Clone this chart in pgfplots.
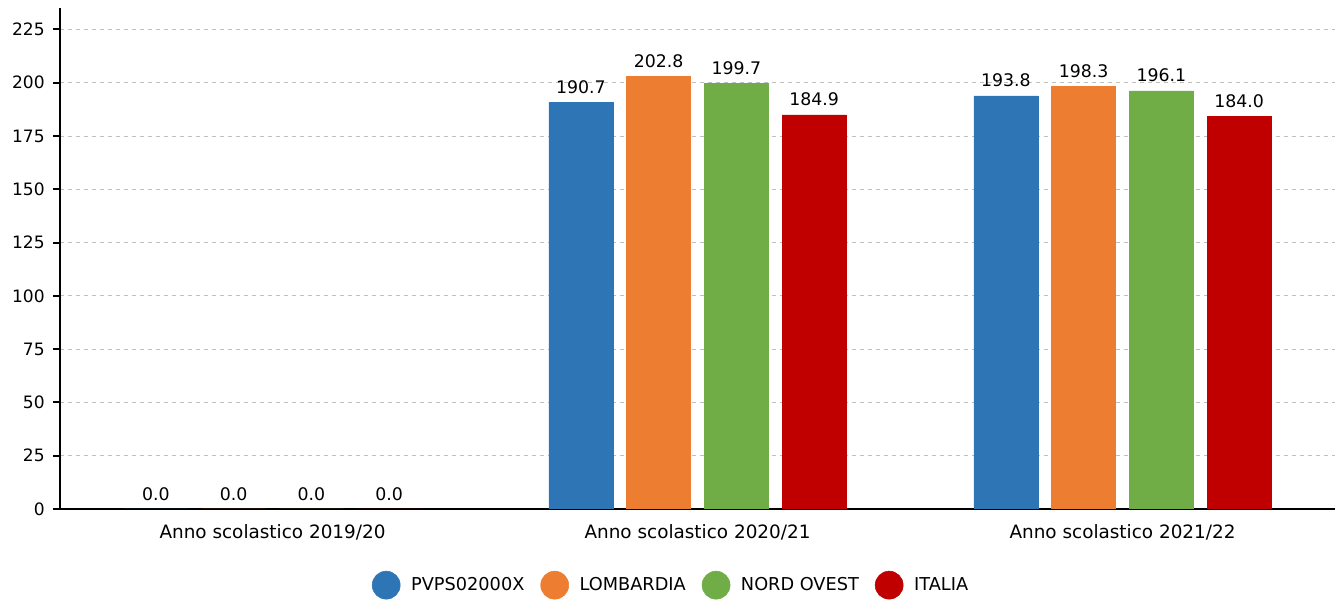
\documentclass[border=0pt]{standalone}
\usepackage{pgfplots}
\pgfplotsset{compat=1.18}
\usepackage{fontspec}
\setmainfont{DejaVu Sans}
\definecolor{cblue}{HTML}{2E75B6}
\definecolor{corange}{HTML}{ED7D31}
\definecolor{cgreen}{HTML}{70AD47}
\definecolor{cred}{HTML}{C00000}
\begin{document}
\begin{tikzpicture}
\useasboundingbox (0,0) rectangle (1001.25pt,452.25pt);
\begin{axis}[
  at={(45pt,70.5pt)}, anchor=south west,
  scale only axis, width=956.25pt, height=375.75pt,
  ybar=10.3pt, bar width=48pt,
  xmin=-0.5, xmax=2.5, ymin=0, ymax=235,
  xtick={0,1,2}, xticklabels={Anno scolastico 2019/20,Anno scolastico 2020/21,Anno scolastico 2021/22},
  ytick={0,25,...,225},
  axis x line*=bottom, axis y line*=left,
  axis line style={line width=1.5pt,-},
  x axis line style={line width=1pt},
  major x tick style={draw=none},
  y tick style={line width=1.5pt, black},
  tick align=outside, major tick length=5pt,
  ymajorgrids, grid style={dashed, gray!50, line width=0.6pt},
  yticklabel style={font=\fontsize{12.8}{14}\selectfont, xshift=-3pt},
  xticklabel style={font=\fontsize{13.8}{15}\selectfont, yshift=-3pt},
  /pgf/number format/assume math mode=true,
  nodes near coords,
  nodes near coords style={font=\fontsize{13}{14}\selectfont, black, yshift=3pt, /pgf/number format/.cd, fixed, precision=1, zerofill, assume math mode=true},
  legend style={at={(0.4795,-0.152)}, anchor=center, draw=none, legend columns=-1,
    font=\fontsize{13.3}{15}\selectfont, column sep=6pt,
    /tikz/every even column/.append style={column sep=10pt}},
  legend image code/.code={\fill[#1] (0.25em,0pt) circle (10.5pt);},
]
\addplot[fill=cblue, draw=cblue] coordinates {(0,0) (1,190.7) (2,193.8)};
\addplot[fill=corange, draw=corange] coordinates {(0,0) (1,202.8) (2,198.3)};
\addplot[fill=cgreen, draw=cgreen] coordinates {(0,0) (1,199.7) (2,196.1)};
\addplot[fill=cred, draw=cred] coordinates {(0,0) (1,184.9) (2,184.0)};
\legend{PVPS02000X,LOMBARDIA,NORD OVEST,ITALIA}
\end{axis}
\end{tikzpicture}
\end{document}
